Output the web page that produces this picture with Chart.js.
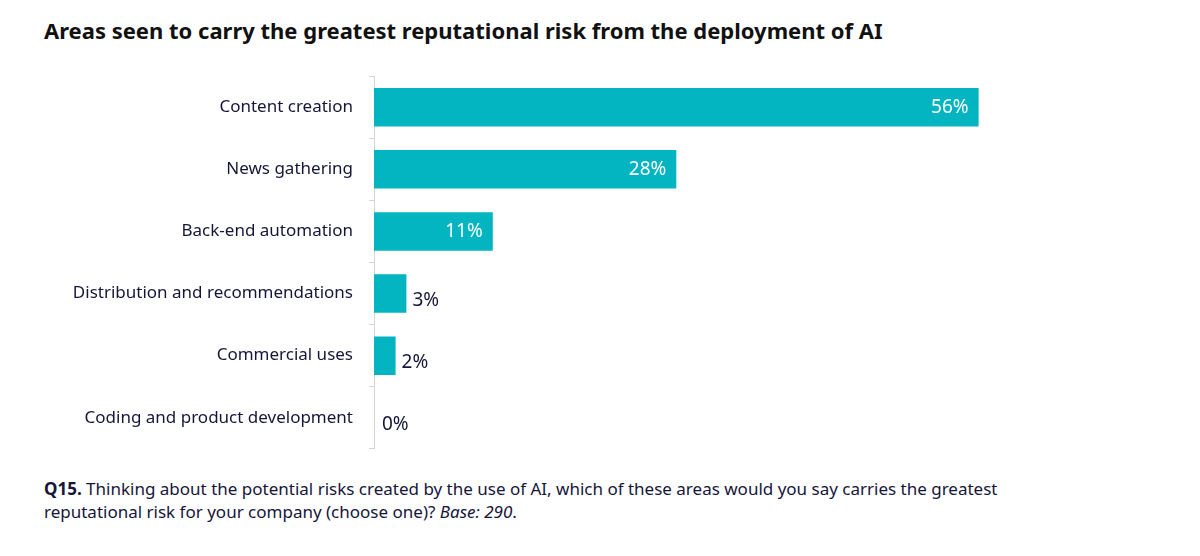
<!DOCTYPE html>
<html>
<head>
<meta charset="utf-8">
<script src="https://cdn.jsdelivr.net/npm/chart.js@4"></script>
<style>
  body { margin: 0; background: #fff; font-family: "Noto Sans", "Open Sans", sans-serif; color: #16163a; }
  #title { position: absolute; left: 44px; top: 15px; font-size: 22px; font-weight: bold; color: #111; }
  #wrap { position: absolute; left: 0; top: 50px; width: 1200px; height: 425px; }
  #note { position: absolute; left: 44px; top: 477px; font-size: 17px; line-height: 23px; color: #16163a; width: 1040px; }
</style>
</head>
<body>
<div id="title">Areas seen to carry the greatest reputational risk from the deployment of AI</div>
<div id="wrap"><canvas id="riskChart"></canvas></div>
<div id="note"><b>Q15.</b> Thinking about the potential risks created by the use of AI, which of these areas would you say carries the greatest reputational risk for your company (choose one)? <i>Base: 290</i>.</div>
<script>
document.addEventListener("DOMContentLoaded", function () {
    // Share of respondents per area
    var chartData = {
        labels: ["Content creation", "News gathering", "Back-end automation",
                 "Distribution and recommendations", "Commercial uses", "Coding and product development"],
        datasets: [{
            data: [56, 28, 11, 3, 2, 0],
            backgroundColor: '#02b5c0',
            barPercentage: 0.62,
            categoryPercentage: 1.0
        }]
    };

    // draw the value labels, inside the bar for big values
    var valueLabels = {
        id: 'valueLabels',
        afterDatasetsDraw: function (chart) {
            var ctx = chart.ctx;
            var meta = chart.getDatasetMeta(0);
            ctx.save();
            ctx.font = '19px "Noto Sans", sans-serif';
            ctx.textBaseline = 'middle';
            meta.data.forEach(function (bar, i) {
                var v = chartData.datasets[0].data[i];
                if (v >= 10) {
                    ctx.fillStyle = '#fff';
                    ctx.textAlign = 'right';
                    ctx.fillText(v + '%', bar.x - 10, bar.y);
                } else {
                    ctx.fillStyle = '#16163a';
                    ctx.textAlign = 'left';
                    ctx.fillText(v + '%', Math.max(bar.x + 6, 382), bar.y + 7);
                }
            });
            ctx.restore();
        }
    };

    var ctx = document.getElementById('riskChart').getContext('2d');
    new Chart(ctx, {
        type: 'bar',
        data: chartData,
        plugins: [valueLabels],
        options: {
            indexAxis: 'y',
            responsive: true,
            maintainAspectRatio: false,
            animation: false,
            layout: { padding: { right: 40 } },
            plugins: { legend: { display: false }, tooltip: { enabled: false } },
            scales: {
                x: { display: false, min: 0, max: 72.8 },
                y: {
                    afterFit: function (s) { s.width = 374; },
                    border: { color: '#d6d6d6' },
                    grid: { drawOnChartArea: false, offset: true, tickLength: 5, color: '#d6d6d6' },
                    ticks: { color: '#16163a', padding: 16, font: { size: 17, family: '"Noto Sans", sans-serif' } }
                }
            }
        }
    });
});
</script>
</body>
</html>
